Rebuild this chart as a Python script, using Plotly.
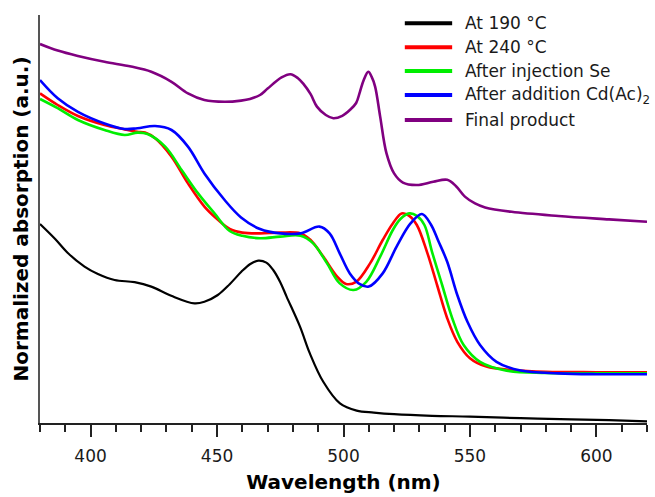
import plotly.graph_objects as go

# Absorption spectra, normalized and vertically offset (a.u.)
wl_190 = [380, 386, 391, 397.6, 402.9, 409.5, 417.4, 424, 431.9, 441.1, 445, 450.3, 455,
          459.6, 463, 466.3, 469.5, 472.2, 475, 477.5, 482.8, 486.7, 492, 498.6, 505.2, 512,
          520, 535, 550, 570, 590, 605, 620]
abs_190 = [0.4975, 0.46, 0.425, 0.391, 0.3725, 0.3575, 0.352, 0.341, 0.318, 0.299, 0.303,
           0.32, 0.347, 0.378, 0.397, 0.406, 0.401, 0.3825, 0.352, 0.316, 0.241, 0.174, 0.103,
           0.049, 0.031, 0.026, 0.022, 0.018, 0.016, 0.012, 0.009, 0.007, 0.004]

wl_240 = [380, 387, 395, 405.5, 413.5, 418.5, 421.5, 425.5, 432, 438.5, 445, 450, 455, 460,
          467, 475, 483, 487, 492, 497.5, 501, 505, 510.5, 515.5, 519.5, 523, 526, 529, 533,
          537, 541, 545, 550, 556.5, 567, 580, 600, 620]
abs_240 = [0.824, 0.795, 0.7675, 0.745, 0.734, 0.728, 0.726, 0.712, 0.666, 0.599, 0.541, 0.51,
           0.485, 0.476, 0.474, 0.476, 0.474, 0.4575, 0.416, 0.366, 0.3475, 0.353, 0.399,
           0.4575, 0.499, 0.524, 0.518, 0.495, 0.428, 0.345, 0.262, 0.203, 0.162, 0.141,
           0.1325, 0.128, 0.127, 0.127]

wl_se = [380, 387, 395, 405.5, 413.5, 418.5, 422.5, 429.5, 436, 442.5, 449, 455, 460, 467,
         475, 483, 488, 493.5, 498.5, 504, 509, 514.5, 519.5, 522.5, 526, 529, 532, 535, 539,
         543, 547.5, 554, 564.5, 580, 600, 620]
abs_se = [0.81, 0.787, 0.7575, 0.7325, 0.72, 0.726, 0.7225, 0.691, 0.6325, 0.574, 0.524, 0.48,
          0.468, 0.462, 0.466, 0.468, 0.449, 0.399, 0.349, 0.3325, 0.353, 0.416, 0.4825, 0.51,
          0.524, 0.518, 0.495, 0.428, 0.345, 0.262, 0.195, 0.153, 0.131, 0.125, 0.124, 0.124]

wl_cd = [380, 387, 395, 405.5, 413.5, 418.5, 425.5, 432, 438.5, 445, 453, 459.5, 467, 475,
         483, 490.5, 494.5, 498.5, 502.5, 506.5, 510, 515.5, 521, 526.5, 531, 534.5, 537.5,
         541, 545, 549, 554, 560.5, 570, 585, 600, 620]
abs_cd = [0.8575, 0.812, 0.778, 0.749, 0.735, 0.737, 0.7425, 0.7325, 0.691, 0.624, 0.5575,
          0.514, 0.485, 0.474, 0.474, 0.491, 0.474, 0.424, 0.374, 0.347, 0.341, 0.374, 0.441,
          0.499, 0.5225, 0.497, 0.455, 0.403, 0.32, 0.253, 0.195, 0.153, 0.131, 0.124, 0.122,
          0.122]

wl_final = [380, 387, 395, 405.5, 416, 424, 432, 438.5, 445, 453, 459.5, 463, 467, 470,
            475.5, 479, 482, 484, 487, 489.5, 493, 496, 499.5, 502.5, 505, 506.5, 508, 509.8,
            511.1, 512.5, 514.5, 517, 520, 523.5, 529, 535.5, 541, 544.5, 548, 552, 556,
            566.5, 585, 605, 620]
abs_final = [0.9475, 0.931, 0.9175, 0.903, 0.891, 0.878, 0.853, 0.824, 0.8075, 0.803, 0.806,
             0.81, 0.82, 0.836, 0.864, 0.872, 0.862, 0.849, 0.822, 0.791, 0.77, 0.762, 0.768,
             0.7825, 0.80, 0.828, 0.8575, 0.878, 0.866, 0.841, 0.766, 0.674, 0.624, 0.601,
             0.595, 0.603, 0.608, 0.592, 0.566, 0.549, 0.539, 0.528, 0.5175, 0.509, 0.503]

labels = ["At 190 °C", "At 240 °C", "After injection Se",
          "After addition Cd(Ac)<sub>2</sub>", "Final product"]
colors = ["#000000", "#ff0000", "#00ee00", "#0000ff", "#800080"]
widths = [2.2, 2.6, 2.6, 2.6, 2.6]
series = [(wl_190, abs_190), (wl_240, abs_240), (wl_se, abs_se),
          (wl_cd, abs_cd), (wl_final, abs_final)]

FONT = "DejaVu Sans"

fig = go.Figure()
for (x, y), name, c, w in zip(series, labels, colors, widths):
    fig.add_trace(go.Scatter(
        x=x, y=y, mode="lines", name=name, showlegend=False,
        line=dict(color=c, width=w, shape="spline", smoothing=1.0),
    ))

# Legend drawn as key lines plus labels in the upper right
legend_y = [0.9797, 0.9208, 0.8627, 0.8039, 0.7426]
for name, c, ly in zip(labels, colors, legend_y):
    fig.add_shape(type="line", xref="paper", yref="paper",
                  x0=0.601, x1=0.679, y0=ly, y1=ly,
                  line=dict(color=c, width=4))
    fig.add_annotation(xref="paper", yref="paper", x=0.697, y=ly,
                       xanchor="left", yanchor="middle", showarrow=False,
                       text=name, font=dict(family=FONT, size=17, color="#1a1a1a"))

fig.update_layout(
    width=655, height=497,
    margin=dict(l=40, r=8, t=15, b=74),
    plot_bgcolor="white", paper_bgcolor="white",
    font=dict(family=FONT, color="#1a1a1a"),
    xaxis=dict(
        range=[380, 620], tick0=400, dtick=50,
        ticks="outside", ticklen=12, tickwidth=1.5, tickcolor="#222",
        minor=dict(dtick=10, ticks="outside", ticklen=7, tickwidth=1.5, tickcolor="#222"),
        showline=True, linecolor="#222", linewidth=1.5,
        showgrid=False, zeroline=False,
        tickfont=dict(family=FONT, size=17, color="#1a1a1a"),
        ticklabelstandoff=5,
        title=dict(text="<b>Wavelength (nm)</b>", standoff=10,
                   font=dict(family=FONT, size=20, color="#000")),
        automargin=False,
    ),
    yaxis=dict(
        range=[0, 1.02], showticklabels=False, ticks="",
        showline=True, linecolor="#555", linewidth=2,
        showgrid=False, zeroline=False,
        title=dict(text="<b>Normalized absorption (a.u.)</b>", standoff=4,
                   font=dict(family=FONT, size=20, color="#000")),
        automargin=False,
    ),
)

fig.write_html("out.html")
